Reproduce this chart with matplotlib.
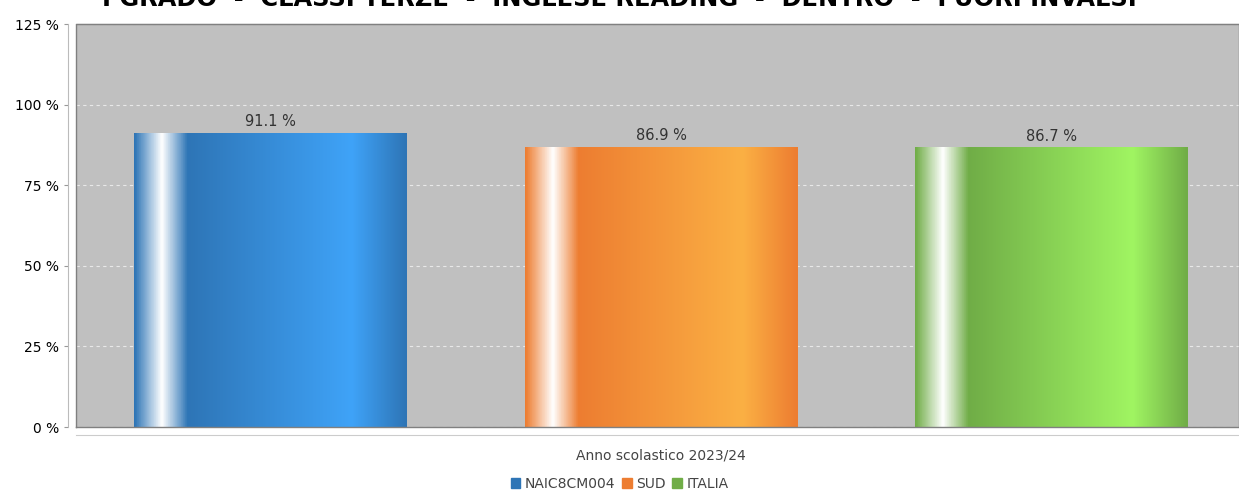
import matplotlib.pyplot as plt
import numpy as np
from matplotlib.colors import LinearSegmentedColormap

title = "I GRADO  -  CLASSI TERZE  -  INGLESE READING  -  DENTRO  -  FUORI INVALSI"
category = "Anno scolastico 2023/24"
series = ["NAIC8CM004", "SUD", "ITALIA"]
values = [91.1, 86.9, 86.7]
base_colors = ["#2e75b6", "#ed7d31", "#70ad47"]
bright_colors = ["#3fa3f8", "#fbb044", "#a0f562"]

fig = plt.figure(figsize=(12.39, 4.94), dpi=100)
ax = fig.add_axes([76 / 1239, 1 - 427 / 494, 1163 / 1239, 403 / 494])
ax.set_facecolor("#c0c0c0")

x = np.arange(len(values))
width = 0.699
bars = ax.bar(x, values, width=width, color="none", zorder=3)

grad = np.linspace(0, 1, 400).reshape(1, -1)
for rect, base, bright, v in zip(bars, base_colors, bright_colors, values):
    cmap = LinearSegmentedColormap.from_list(
        "g", [(0, base), (0.10, "#ffffff"), (0.195, base), (0.80, bright), (1.0, base)])
    x0 = rect.get_x()
    im = ax.imshow(grad, cmap=cmap, aspect="auto", extent=(x0, x0 + rect.get_width(), 0, v),
                   zorder=2, interpolation="bilinear")
    im.set_clip_path(rect)
    ax.text(rect.get_x() + rect.get_width() / 2, v + 1.2, f"{v} %", ha="center", va="bottom",
            fontsize=10.5, color="#333333", zorder=4)

ax.set_xlim(-0.498, 2.48)
ax.set_ylim(0, 125)
ax.set_yticks([0, 25, 50, 75, 100, 125])
ax.set_yticklabels([f"{t} %" for t in [0, 25, 50, 75, 100, 125]], fontsize=10, color="#555555")
ax.grid(axis="y", color="#e8e8e8", linestyle=(0, (3, 3)), linewidth=0.8, zorder=1)
ax.set_axisbelow(True)
ax.set_xticks([])
for s in ax.spines.values():
    s.set_color("#7f7f7f")
    s.set_linewidth(0.8)
ax.spines["left"].set_position(("outward", 6))
ax.spines["left"].set_color("#bbbbbb")
ax.spines["bottom"].set_position(("outward", 6))
ax.spines["bottom"].set_color("#cccccc")
ax.spines["right"].set_visible(False)
ax.tick_params(axis="y", length=3, color="#999999", pad=3)

# outline of the plot area
ax.plot([0, 0, 1, 1, 0], [0, 1, 1, 0, 0], transform=ax.transAxes, color="#808080",
        lw=1.0, clip_on=False, zorder=5)

ax.text(1.0, -0.07, category, ha="center", va="center", fontsize=10,
        color="#444444", transform=ax.get_xaxis_transform())

# title is cropped at the top edge in the reference
fig.text(0.5, 1 - 6 / 494, title, ha="center", va="baseline", fontsize=17.4,
         fontweight="bold", color="#000000")

handles = [plt.Rectangle((0, 0), 1, 1, color=c) for c in base_colors]
fig.legend(handles, series, loc="center", bbox_to_anchor=(0.5, 1 - 484 / 494), ncol=3,
           frameon=False, fontsize=10, handlelength=0.7, handleheight=0.7,
           handletextpad=0.3, columnspacing=0.5, labelcolor="#444444")

fig.savefig("out.png", dpi=100)
